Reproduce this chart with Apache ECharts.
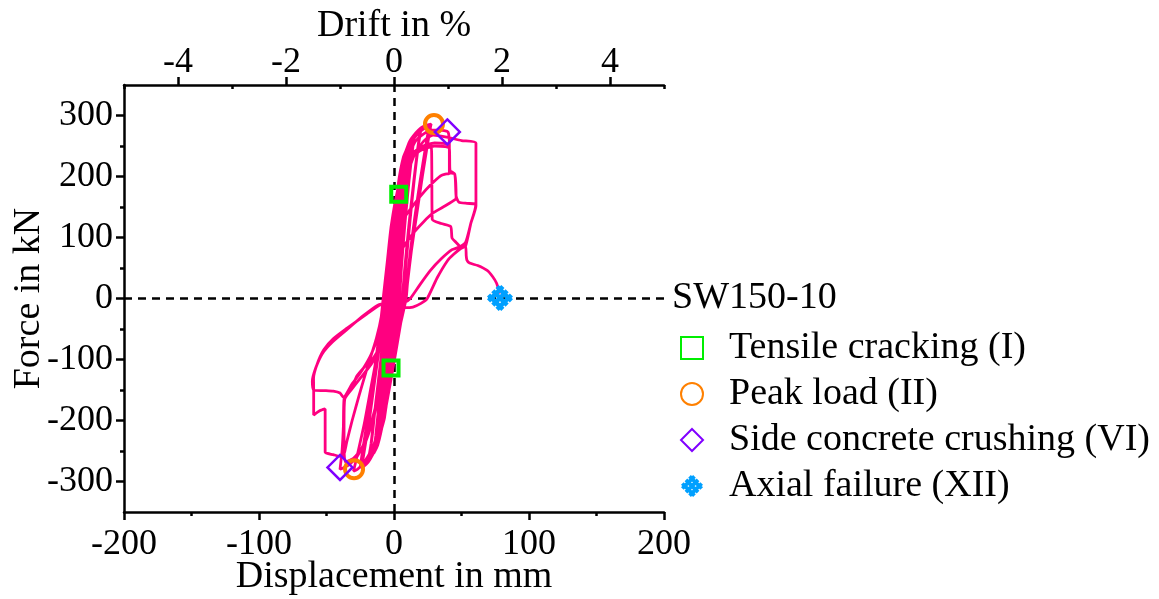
<!doctype html>
<html>
<head>
    <meta charset="utf-8">
    <title>SW150-10 hysteresis</title>
    <script src="https://cdn.jsdelivr.net/npm/echarts@6/dist/echarts.min.js"></script>
    <style>
        body { margin: 0; background: #fff; }
        #main { width: 1159px; height: 599px; }
    </style>
</head>
<body>
    <div id="main"></div>
    <script type="text/javascript">
        var chart = echarts.init(document.getElementById('main'));
        var serif = '"Liberation Serif", "Times New Roman", serif';

        // displacement (mm), force (kN), in load order
        var hysteresis = [
            // small cycles
            [0,0],[1,70],[2,125],[3,160],[3.5,170],[2.5,130],[1,60],[0,0],[-1,-50],[-2,-95],[-3,-125],[-2,-95],[-1,-45],[0,0],
            [0.5,55],[2,130],[4,185],[6,210],[5,180],[3,110],[1,30],[0,0],[-2,-70],[-4,-145],[-6,-180],[-5,-150],[-3,-80],[-1,-10],[-0.5,0],
            [0.5,60],[2.5,135],[5,195],[8,230],[9,237],[7.5,200],[4.5,110],[2,20],[1.5,0],[-1,-55],[-4,-140],[-7,-195],[-9,-212],[-7.5,-170],[-4.5,-80],[-2.5,0],
            [-1,40],[1,110],[4,180],[8,232],[12,255],[10.5,215],[7,120],[3.5,20],[2.5,0],[-1,-60],[-5,-145],[-9,-205],[-12,-235],[-10.5,-190],[-7,-90],[-4,0],
            [-3,40],[0,115],[3,185],[7,232],[11,252],[9.5,210],[6.5,120],[3.5,25],[2.5,0],[-1.5,-60],[-5.5,-150],[-9.5,-210],[-12,-232],[-10,-185],[-6.5,-85],[-4,0],
            [-2,35],[0,100],[3,170],[7,225],[11,252],[15,266],[13.5,240],[11,190],[8,120],[5.5,50],[4,0],[1,-50],[-3,-125],[-8,-200],[-12,-240],[-15,-254],[-13.5,-225],[-11,-170],[-8,-100],[-6,-35],[-5,0],
            [-3,35],[-1,100],[2,165],[6,220],[11,255],[16,271],[20,278],[18,250],[15,195],[12,130],[9,60],[6.5,0],[3,-45],[-2,-115],[-8,-200],[-14,-248],[-19,-267],[-17,-238],[-14,-180],[-10,-105],[-7.5,-40],[-6.5,0],
            [-3,30],[-0.5,95],[2.5,160],[7,222],[12,256],[17,270],[19.5,275],[17.5,245],[14.5,190],[11,120],[8,50],[6,0],[2.5,-50],[-2.5,-120],[-8.5,-203],[-14.5,-250],[-19,-264],[-16.5,-232],[-13.5,-170],[-9.5,-95],[-7,-30],[-6,0],
            [-4,35],[-1,100],[3,175],[8,232],[14,265],[20,280],[24,284],[27.5,286],[25,260],[21,210],[17,150],[13,90],[10,35],[8,0],[5,-40],[0,-105],[-7,-190],[-13,-243],[-19,-268],[-24,-278],[-22,-250],[-18,-195],[-14,-130],[-10,-65],[-8,-20],[-7.5,0],
            [-5,30],[-1.5,98],[3,172],[8.5,230],[14.5,263],[20.5,277],[26,282],[23.5,250],[19.5,195],[15.5,135],[12,75],[9.5,25],[8.5,0],[4.5,-42],[-1,-108],[-7.5,-192],[-14,-246],[-20,-268],[-25,-277],[-23,-245],[-19,-190],[-15,-125],[-11,-60],[-8.5,-15],[-8,0],
            [-5.5,30],[-2,95],[3,170],[9,230],[15,263],[22,278],[27,281],[25,255],[21,200],[17,140],[13,80],[10,25],[9,0],[5,-40],[-1,-100],[-8,-182],[-15,-240],[-22,-268],[-27,-280],[-30,-283],[-27,-255],[-22,-205],[-17,-145],[-12,-85],[-8.5,-35],[-7,0],
            // 40 mm cycles
            [-5,50],[-2,110],[3,175],[9,225],[16,258],[22,270],[28,276],[34,276],[40,273],[41,252],[41,205],[38,204],[34.5,201],[27,186],[19.6,168],[12,146],[4.5,122],[1,98],[-1.6,72],[-3,35],[-4,0],
            [-6,-60],[-9,-120],[-14,-180],[-20,-225],[-27,-258],[-33,-272],[-37,-277],[-40,-280],[-38.5,-250],[-37.5,-210],[-37,-165],[-32,-150],[-27.5,-127],[-21,-110],[-15.5,-98],[-10,-78],[-5.4,-59],[-3,-25],[-2,0],
            [0,60],[3,140],[8,200],[14,232],[20,243],[30,250],[38,249],[41,246],[41.5,210],[45,204],[46,165],[45.8,163],[38,152],[29.5,141],[22,126],[14.6,108],[8,88],[4.6,74],[1,35],[-2,0],
            [-5,-60],[-9,-130],[-15,-195],[-22,-240],[-30,-262],[-36,-268],[-37,-240],[-37,-200],[-36.5,-165],[-30,-145],[-24,-128],[-17,-108],[-11,-85],[-6,-50],[-4,-15],[-3,0],
            // 60 mm cycles
            [0,60],[3,130],[8,190],[15,235],[22,258],[29,268],[35,266],[40,264],[50,259],[60.7,255],[60.7,205],[60.7,152],[57,124],[53,86],[49.4,82],[44,72],[39.6,62],[32,34],[24.6,0],
            [20,-8],[14,-14],[8,-15],[2,-12],[-4,-9],[-10,-10],[-20,-25],[-35,-49],[-45,-66],[-52,-84],[-57,-108],[-59.6,-131],[-59.5,-152],[-59.5,-175],[-59.5,-191],[-55,-184],[-51,-181],[-51,-215],[-51,-252],[-45,-256],[-38,-260],[-35,-235],[-31,-200],[-26,-160],[-20,-115],[-13,-65],[-9,-25],[-8,0],
            [-5,60],[-2,120],[4,190],[11,232],[20,248],[30,255],[38,254],[41,251],[41,207],[45,204],[46,168],[48,158],[54,156],[60,155],[60.5,152],[57,124],[53,92],[48,84],[43,80],[35,65],[27,46],[19,22],[12,0],
            [8,-6],[2,-9],[-6,-9],[-12,-11],[-22,-27],[-36,-53],[-46,-72],[-53,-90],[-58,-114],[-60.5,-136],[-59.5,-150],[-52,-151],[-45,-152],[-40,-155],[-37.5,-162],[-31,-140],[-24,-119],[-17,-92],[-11,-55],[-8,0],
            // final push to axial failure
            [-5,60],[-2,120],[3,180],[10,225],[18,245],[24,252],[27.5,252],[28,210],[28.3,130],[35,123],[42,118],[43,99],[46,92],[49,86],[53,86],[53.5,70],[54,63],[56,58],[62,54],[69,46],[73,36],[76,25],[77.5,14],[78,8]
        ];

        var tensileCracking = [[3.5,171],[-2.2,-114]];
        var peakLoad = [[29.6,286],[-29.6,-280]];
        var sideCrushing = [[39.5,273],[-40,-277]];
        var axialFailure = [[78.5,1]];

        var forceTicks = [-300,-200,-100,0,100,200,300];
        var forceMinor = [-250,-150,-50,50,150,250];
        var driftTicks = [-4,-2,0,2,4];
        var driftMinor = [-5,-3,-1,1,3,5];

        // three bars each way, laid diagonally
        var hashSymbol = 'path://M11.31,0L13.79,2.47L2.47,13.79L0,11.31Z' +
            'M14.67,3.36L17.14,5.83L5.83,17.14L3.36,14.67Z' +
            'M18.03,6.71L20.5,9.19L9.19,20.5L6.71,18.03Z' +
            'M9.19,0L20.5,11.31L18.03,13.79L6.71,2.47Z' +
            'M5.83,3.36L17.14,14.67L14.67,17.14L3.36,5.83Z' +
            'M2.47,6.71L13.79,18.03L11.31,20.5L0,9.19Z';

        var axisCommon = {
            axisLine: { onZero: false, lineStyle: { color: '#000', width: 2.5 } },
            splitLine: { show: false },
            nameMoveOverlap: false,
            nameTextStyle: { fontFamily: serif, fontSize: 38, color: '#000' }
        };
        var tickStyle = { color: '#000', width: 2.5 };
        var labelStyle = { fontFamily: serif, fontSize: 36, color: '#000' };

        var option = {
            animation: false,
            backgroundColor: '#fff',
            grid: { left: 124, right: 495, top: 85, bottom: 87, outerBoundsMode: 'none', containLabel: false },
            title: {
                text: 'SW150-10',
                left: 672, top: 279, padding: 0,
                textStyle: { fontFamily: serif, fontSize: 38, fontWeight: 'normal', color: '#000' }
            },
            legend: {
                orient: 'vertical',
                left: 675, top: 324,
                itemWidth: 22, itemHeight: 22, itemGap: 8,
                textStyle: { fontFamily: serif, fontSize: 38, color: '#000', padding: [0, 0, 0, 21] },
                data: ['Tensile cracking (I)', 'Peak load (II)', 'Side concrete crushing (VI)', 'Axial failure (XII)']
            },
            xAxis: [
                Object.assign({}, axisCommon, {
                    type: 'value', position: 'bottom', min: -200, max: 200, interval: 100,
                    name: 'Displacement in mm', nameLocation: 'middle', nameGap: 46,
                    axisTick: { length: 8, lineStyle: tickStyle },
                    minorTick: { show: true, splitNumber: 2, length: 4, lineStyle: tickStyle },
                    axisLabel: Object.assign({ margin: 15 }, labelStyle)
                }),
                Object.assign({}, axisCommon, {
                    type: 'value', position: 'top', min: -5, max: 5,
                    name: 'Drift in %', nameLocation: 'middle', nameGap: 40,
                    axisTick: { customValues: driftTicks, length: 8, lineStyle: tickStyle },
                    axisLabel: Object.assign({ customValues: driftTicks, margin: 4 }, labelStyle)
                }),
                {
                    type: 'value', position: 'top', min: -5, max: 5,
                    axisLine: { show: false, onZero: false },
                    splitLine: { show: false },
                    axisLabel: { show: false },
                    axisTick: { customValues: driftMinor, inside: true, length: 4, lineStyle: tickStyle }
                }
            ],
            yAxis: [
                Object.assign({}, axisCommon, {
                    type: 'value', min: -350, max: 350,
                    name: 'Force in kN', nameLocation: 'middle', nameGap: 76,
                    axisTick: { customValues: forceTicks, length: 8, lineStyle: tickStyle },
                    axisLabel: Object.assign({ customValues: forceTicks, margin: 11 }, labelStyle)
                }),
                {
                    type: 'value', position: 'left', min: -350, max: 350,
                    axisLine: { show: false, onZero: false },
                    splitLine: { show: false },
                    axisLabel: { show: false },
                    axisTick: { customValues: forceMinor, length: 4, lineStyle: tickStyle }
                }
            ],
            series: [
                {
                    name: 'SW150-10',
                    type: 'line',
                    xAxisIndex: 0, yAxisIndex: 0,
                    data: hysteresis,
                    showSymbol: false,
                    symbol: 'none',
                    smooth: 0.2,
                    z: 3,
                    lineStyle: { color: '#ff0080', width: 2.8 },
                    markLine: {
                        silent: true,
                        z: 1,
                        symbol: ['none', 'none'],
                        label: { show: false },
                        lineStyle: { color: '#000', width: 2.5, type: [8, 6] },
                        data: [{ xAxis: 0 }, { yAxis: 0 }]
                    }
                },
                {
                    name: 'Tensile cracking (I)', type: 'scatter', data: tensileCracking,
                    symbol: 'rect', symbolSize: 15, z: 5,
                    itemStyle: { color: 'rgba(255,255,255,0)', borderColor: '#00ee00', borderWidth: 4, opacity: 1 }
                },
                {
                    name: 'Peak load (II)', type: 'scatter', data: peakLoad,
                    symbol: 'circle', symbolSize: 18, z: 5,
                    itemStyle: { color: 'rgba(255,255,255,0)', borderColor: '#ff8000', borderWidth: 4, opacity: 1 }
                },
                {
                    name: 'Side concrete crushing (VI)', type: 'scatter', data: sideCrushing,
                    symbol: 'diamond', symbolSize: 25, z: 5,
                    itemStyle: { color: 'rgba(255,255,255,0)', borderColor: '#8000ff', borderWidth: 2.5, opacity: 1 }
                },
                {
                    name: 'Axial failure (XII)', type: 'scatter', data: axialFailure,
                    symbol: hashSymbol, symbolSize: 26, z: 5,
                    itemStyle: { color: '#00a0ff', opacity: 1 }
                }
            ]
        };

        chart.setOption(option);
    </script>
</body>
</html>
